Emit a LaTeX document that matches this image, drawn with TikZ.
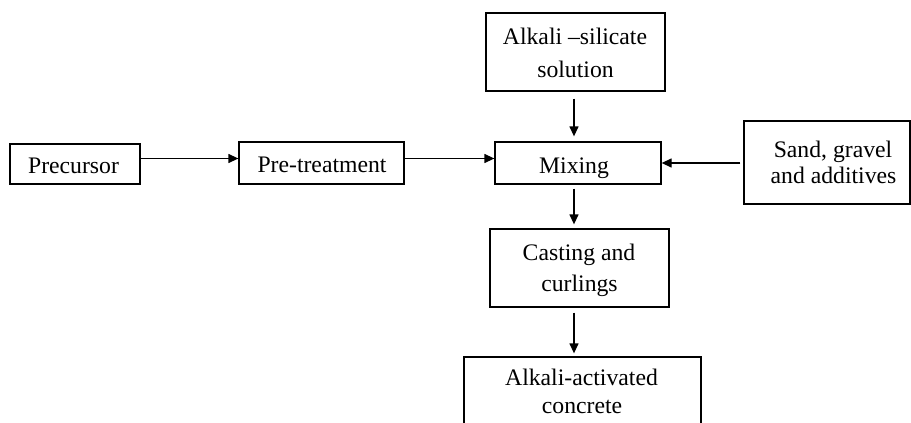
\documentclass[tikz,border=0pt]{standalone}
\usepackage{fontspec}
\setmainfont{Liberation Serif}
\usetikzlibrary{arrows.meta}
\begin{document}
\begin{tikzpicture}[x=1pt,y=-1pt,
  box/.style={draw=black, line width=1.3pt, rectangle, inner sep=0pt, fill=white},
  txt/.style={anchor=base, inner sep=0pt, font=\fontsize{23.7}{28}\selectfont},
  arr/.style={line width=1.3pt, -{Triangle[length=10pt,width=9pt]}}]
\useasboundingbox (0,0) rectangle (911,423);
% boxes
\node[box, minimum width=130pt, minimum height=40pt] (pre) at (75,164) {};
\node[box, minimum width=165pt, minimum height=42pt] (pt) at (321.5,163) {};
\node[box, minimum width=166pt, minimum height=42pt] (mix) at (578,163) {};
\node[box, minimum width=179pt, minimum height=78pt] (alk) at (575.5,52) {};
\node[box, minimum width=166pt, minimum height=83pt] (sand) at (827,162.5) {};
\node[box, minimum width=179pt, minimum height=78pt] (cast) at (579.5,268) {};
\node[box, minimum width=237pt, minimum height=100pt] (conc) at (582.5,407) {};
% texts
\node[txt] (pret) at (73.5,173) {Precursor};
\node[txt] (ptt) at (322,172) {Pre-treatment};
\node[txt] (mixt) at (574,173) {Mixing};
\node[txt] (alka) at (575,45) {Alkali –silicate};
\node[txt] (alkb) at (575.5,77) {solution};
\node[txt] (sanda) at (833,157) {Sand, gravel};
\node[txt] (sandb) at (833.5,183) {and additives};
\node[txt] (casta) at (579,260) {Casting and};
\node[txt] (castb) at (579.5,291) {curlings};
\node[txt] (conca) at (581.5,385) {Alkali-activated};
\node[txt] (concb) at (582,413) {concrete};
% connectors
\draw[arr] (pre.east |- 0,158.5) -- (pt.west |- 0,158.5);
\draw[arr] (pt.east |- 0,158.5) -- (mix.west |- 0,158.5);
\draw[arr, shorten <=3pt] (sand.west |- 0,163) -- (mix.east |- 0,163);
\draw[arr, shorten <=7pt, shorten >=5pt] (alk.south -| 574,0) -- (mix.north -| 574,0);
\draw[arr, shorten <=4pt, shorten >=4pt] (mix.south -| 574,0) -- (cast.north -| 574,0);
\draw[arr, shorten <=5pt, shorten >=3pt] (cast.south -| 574,0) -- (conc.north -| 574,0);
\end{tikzpicture}
\end{document}
